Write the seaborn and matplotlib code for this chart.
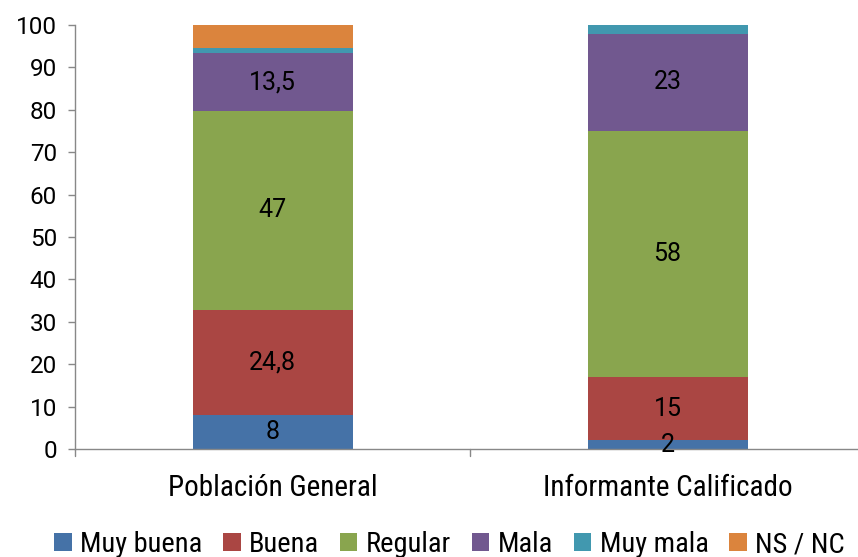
import matplotlib
matplotlib.use("Agg")
import matplotlib.pyplot as plt
from matplotlib.patches import Patch
import seaborn as sns
import pandas as pd
import numpy as np

# Survey results (%) per respondent group
groups = ["Población General", "Informante Calificado"]
categories = ["Muy buena", "Buena", "Regular", "Mala", "Muy mala", "NS / NC"]
muy_buena = [8, 2]
buena = [24.8, 15]
regular = [47, 58]
mala = [13.5, 23]
muy_mala = [1.2, 2]
ns_nc = [5.5, 0]
labelled = ["Muy buena", "Buena", "Regular", "Mala"]

colors = ["#4572A7", "#AA4643", "#89A54E", "#71588F", "#4198AF", "#DB843D"]

sns.set_style("white")
narrow = ["Roboto Condensed", "DejaVu Sans"]
plt.rcParams["font.family"] = ["Roboto", "DejaVu Sans"]
plt.rcParams["text.color"] = "black"

df = pd.DataFrame(
    {"grupo": groups, "Muy buena": muy_buena, "Buena": buena, "Regular": regular,
     "Mala": mala, "Muy mala": muy_mala, "NS / NC": ns_nc}
)
cum = df[categories].cumsum(axis=1)
starts = cum - df[categories]

fig = plt.figure(figsize=(8.58, 5.57), dpi=100)
ax = fig.add_axes([0.0874, 0.194, 0.921, 0.761])

# Draw from the top of the stack downwards so each layer covers the ones above it
for cat, col in zip(categories[::-1], colors[::-1]):
    sns.barplot(x=df["grupo"], y=cum[cat], color=col, width=0.405, ax=ax,
                saturation=1, edgecolor="none", linewidth=0)

for i in range(len(groups)):
    for cat in labelled:
        v = df.loc[i, cat]
        mid = starts.loc[i, cat] + v / 2
        txt = f"{v:g}".replace(".", ",")
        ax.text(i, mid, txt, ha="center", va="center", fontsize=18,
                family=["Roboto", "DejaVu Sans"], color="black")

ax.set_xlim(-0.5, 1.5)
ax.set_ylim(0, 100)
ax.set_yticks(np.arange(0, 101, 10))
ax.set_xlabel("")
ax.set_ylabel("")
ax.tick_params(axis="y", labelsize=17.5, length=5, width=1, color="#888888",
               labelcolor="black", direction="out", left=True, pad=8)
ax.tick_params(axis="x", length=0, pad=18, labelcolor="black")
for lab in ax.get_xticklabels():
    lab.set_fontfamily(narrow)
    lab.set_fontsize(21)

for side in ["top", "right"]:
    ax.spines[side].set_visible(False)
for side in ["left", "bottom"]:
    ax.spines[side].set_color("#888888")
    ax.spines[side].set_linewidth(1)

# Category separators on the x axis
for xpos in [-0.5, 0.5, 1.5]:
    ax.plot([xpos, xpos], [0, -1.6], color="#888888", lw=1, clip_on=False)

handles = [Patch(facecolor=c, edgecolor="none") for c in colors]
fig.legend(handles, categories, loc="center", bbox_to_anchor=(0.524, 0.022),
           ncol=6, frameon=False, handlelength=0.62, handleheight=0.62,
           handletextpad=0.3, columnspacing=0.72, labelcolor="black",
           borderaxespad=0, borderpad=0,
           prop={"family": narrow, "size": 20.5})

fig.savefig("out.png", dpi=100)
